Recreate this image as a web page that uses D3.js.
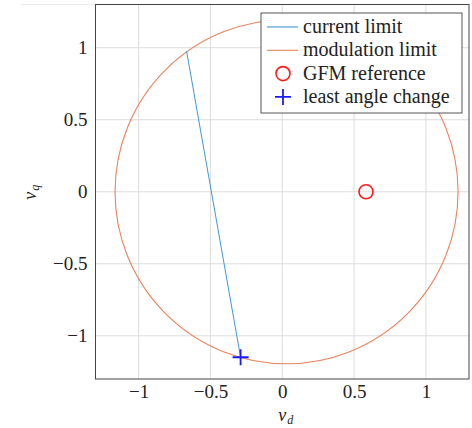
<!DOCTYPE html>
<meta charset="utf-8">
<style>
body { margin: 0; background: #fff; }
text { font-family: "Liberation Serif", serif; fill: #222; }
.tick text { font-size: 19px; font-family: "Liberation Serif", serif; }
.legendtext { font-size: 20px; font-family: "Liberation Serif", serif; }
</style>
<body>
<svg width="472" height="428"></svg>
<script src="https://d3js.org/d3.v7.min.js"></script>
<script>

// data
var xTicks = [-1, -0.5, 0, 0.5, 1];
var yTicks = [-1, -0.5, 0, 0.5, 1];
var modCenter = [0.03, 0];
var modRadius = 1.194;
var currentLimit = [[-0.666, 0.976], [-0.29, -1.149]];
var gfmRef = [[0.583, 0]];
var leastAngle = [[-0.29, -1.149]];
var legendItems = ["current limit", "modulation limit", "GFM reference", "least angle change"];

var svg = d3.select("svg"),
    margin = {top: 4.5, right: 3, bottom: 49, left: 95.5},
    width = +svg.attr("width") - margin.left - margin.right,
    height = +svg.attr("height") - margin.top - margin.bottom;

var x = d3.scaleLinear().domain([-1.3, 1.3]).range([0, width]),
    y = d3.scaleLinear().domain([-1.3, 1.3]).range([height, 0]);

var fmt = function(d) { return d < 0 ? "\u2212" + Math.abs(d) : String(d); };

// faint line at the very top
svg.append("line")
    .attr("x1", 21).attr("x2", margin.left).attr("y1", 4.5).attr("y2", 4.5)
    .attr("stroke", "#ececec").attr("stroke-width", 1);

var g = svg.append("g")
    .attr("transform", "translate(" + margin.left + "," + margin.top + ")");

// grid
g.selectAll(".gx").data(xTicks).enter().append("line")
    .attr("x1", function(d) { return x(d); }).attr("x2", function(d) { return x(d); })
    .attr("y1", 0).attr("y2", height)
    .attr("stroke", "#dcdcdc").attr("stroke-width", 1);
g.selectAll(".gy").data(yTicks).enter().append("line")
    .attr("y1", function(d) { return y(d); }).attr("y2", function(d) { return y(d); })
    .attr("x1", 0).attr("x2", width)
    .attr("stroke", "#dcdcdc").attr("stroke-width", 1);

// axes
var xa = g.append("g")
    .attr("transform", "translate(0," + height + ")")
    .call(d3.axisBottom(x).tickValues(xTicks).tickFormat(fmt).tickSize(0).tickPadding(6));
var ya = g.append("g")
    .call(d3.axisLeft(y).tickValues(yTicks).tickFormat(fmt).tickSize(0).tickPadding(8));
xa.select(".domain").remove();
ya.select(".domain").remove();
g.selectAll(".tick text").attr("fill", "#222");

// modulation limit circle
g.append("ellipse")
    .attr("cx", x(modCenter[0]))
    .attr("cy", y(modCenter[1]))
    .attr("rx", x(modCenter[0] + modRadius) - x(modCenter[0]))
    .attr("ry", y(modCenter[1] - modRadius) - y(modCenter[1]))
    .attr("fill", "none")
    .attr("stroke", "#e8835c")
    .attr("stroke-width", 1.1);

// current limit
var line = d3.line().x(function(d) { return x(d[0]); }).y(function(d) { return y(d[1]); });
g.append("path")
    .datum(currentLimit)
    .attr("d", line)
    .attr("fill", "none")
    .attr("stroke", "#3f97d6")
    .attr("stroke-width", 1);

// GFM reference
g.selectAll(".gfm").data(gfmRef).enter().append("circle")
    .attr("cx", function(d) { return x(d[0]); })
    .attr("cy", function(d) { return y(d[1]); })
    .attr("r", 7)
    .attr("fill", "none")
    .attr("stroke", "#ff1a1a")
    .attr("stroke-width", 1.6);

// least angle change
var plus = function(sel, cx, cy, s) {
  sel.append("path")
    .attr("d", "M" + (cx - s) + "," + cy + "H" + (cx + s) + "M" + cx + "," + (cy - s) + "V" + (cy + s))
    .attr("stroke", "#1a1aff")
    .attr("stroke-width", 1.8)
    .attr("fill", "none");
};
leastAngle.forEach(function(d) { plus(g, x(d[0]), y(d[1]), 8); });

// frame
g.append("rect")
    .attr("width", width).attr("height", height)
    .attr("fill", "none").attr("stroke", "#444").attr("stroke-width", 1);

// legend
var lg = svg.append("g").attr("transform", "translate(261,13)");
lg.append("rect")
    .attr("width", 201).attr("height", 100)
    .attr("fill", "#fff").attr("stroke", "#555").attr("stroke-width", 1);
legendItems.forEach(function(name, i) {
  var yy = 14 + i * 23.3;
  if (i === 0 || i === 1) {
    lg.append("line")
      .attr("x1", 6).attr("x2", 37).attr("y1", yy).attr("y2", yy)
      .attr("stroke", i === 0 ? "#3f97d6" : "#e8835c").attr("stroke-width", 1.1);
  } else if (i === 2) {
    lg.append("circle").attr("cx", 22).attr("cy", yy).attr("r", 7)
      .attr("fill", "none").attr("stroke", "#ff1a1a").attr("stroke-width", 1.6);
  } else {
    plus(lg, 22, yy, 8);
  }
  lg.append("text")
    .attr("class", "legendtext")
    .attr("x", 42).attr("y", yy).attr("dy", "0.3em")
    .text(name);
});

// axis labels
var xl = svg.append("text")
    .attr("x", margin.left + x(0) - 4).attr("y", 421)
    .attr("text-anchor", "start")
    .style("font-size", "18px");
xl.append("tspan").style("font-style", "italic").text("v");
xl.append("tspan").attr("dx", 1).attr("dy", 3).style("font-size", "12px").style("font-style", "italic").text("d");

var yl = svg.append("text")
    .attr("transform", "translate(36," + (margin.top + y(0) + 8) + ") rotate(-90)")
    .attr("text-anchor", "start")
    .style("font-size", "18px");
yl.append("tspan").style("font-style", "italic").text("v");
yl.append("tspan").attr("dx", 1).attr("dy", 3).style("font-size", "12px").style("font-style", "italic").text("q");

</script>
</body>
